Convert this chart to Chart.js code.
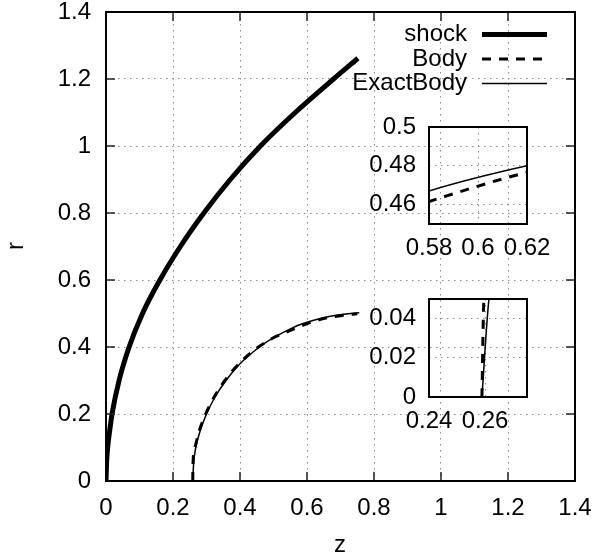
<!DOCTYPE html>
<html>
<head>
<meta charset="utf-8">
<script src="https://cdn.jsdelivr.net/npm/chart.js@4.4.1/dist/chart.umd.min.js"></script>
<style>
  html, body { margin: 0; padding: 0; background: #fff; }
  #wrap { position: relative; width: 596px; height: 556px; }
  canvas { position: absolute; }
</style>
</head>
<body>
<div id="wrap">
  <canvas id="main" width="596" height="556" style="left:0;top:0"></canvas>
  <canvas id="inset1" width="200" height="170" style="left:360px;top:100px"></canvas>
  <canvas id="inset2" width="200" height="170" style="left:360px;top:280px"></canvas>
</div>
<script>
// values: z along x, r along y
const shockZ = [0, 0.0015, 0.005, 0.011, 0.018, 0.039, 0.069, 0.109, 0.161, 0.222, 0.292, 0.371, 0.461, 0.565, 0.679, 0.752];
const shockR = [0, 0.05, 0.1, 0.15, 0.2, 0.3, 0.4, 0.5, 0.6, 0.7, 0.8, 0.9, 1.0, 1.1, 1.2, 1.262];

const bodyZ = [0.2589, 0.2596, 0.2655, 0.2785, 0.2975, 0.3225, 0.355, 0.397, 0.455, 0.497, 0.54, 0.58, 0.62, 0.67, 0.71, 0.75];
const bodyR = [0, 0.05, 0.1, 0.15, 0.2, 0.25, 0.3, 0.35, 0.4, 0.426, 0.445, 0.4616, 0.4766, 0.489, 0.495, 0.499];

const exactZ = [0.2589, 0.2614, 0.268, 0.2812, 0.300, 0.325, 0.358, 0.40, 0.458, 0.50, 0.54, 0.58, 0.62, 0.67, 0.71, 0.756];
const exactR = [0, 0.05, 0.1, 0.15, 0.2, 0.25, 0.3, 0.35, 0.4, 0.428, 0.449, 0.467, 0.48, 0.492, 0.498, 0.502];

const seriesLabels = ['shock', 'Body', 'ExactBody'];

// axis ranges / tick steps
const mainRange = { xMin: 0, xMax: 1.4, yMin: 0, yMax: 1.4, step: 0.2 };
const inset1Range = { xMin: 0.58, xMax: 0.62, yMin: 0.45, yMax: 0.5, step: 0.02 };
const inset2Range = { xMin: 0.24, xMax: 0.275, yMin: 0, yMax: 0.05, step: 0.02 };

const FONT = "'Liberation Sans', Arial, sans-serif";
Chart.defaults.font.family = FONT;
Chart.defaults.font.size = 24;
Chart.defaults.color = '#000';

function xy(xs, ys) {
  return xs.map((x, i) => ({ x: x, y: ys[i] }));
}

function makeDatasets(clip) {
  return [
    { label: seriesLabels[0], data: xy(shockZ, shockR), borderColor: '#000', borderWidth: 5 },
    { label: seriesLabels[1], data: xy(bodyZ, bodyR), borderColor: '#000', borderWidth: 3, borderDash: [9, 8] },
    { label: seriesLabels[2], data: xy(exactZ, exactR), borderColor: '#000', borderWidth: 1.5 }
  ].map(ds => Object.assign(ds, {
    showLine: true,
    pointRadius: 0,
    cubicInterpolationMode: 'monotone',
    borderCapStyle: 'butt',
    borderJoinStyle: 'round',
    clip: clip
  }));
}

// box around the plot + gnuplot-like inward ticks
const framePlugin = {
  id: 'frame',
  afterDraw(chart, args, opts) {
    const { ctx, chartArea: a, scales } = chart;
    ctx.save();
    const len = opts.tickLen || 0;
    if (len) {
      ctx.strokeStyle = '#222';
      ctx.lineWidth = 1.5;
      ctx.beginPath();
      scales.x.ticks.forEach(t => {
        const px = scales.x.getPixelForValue(t.value);
        ctx.moveTo(px, a.bottom); ctx.lineTo(px, a.bottom - len);
        ctx.moveTo(px, a.top); ctx.lineTo(px, a.top + len);
      });
      scales.y.ticks.forEach(t => {
        const py = scales.y.getPixelForValue(t.value);
        ctx.moveTo(a.left, py); ctx.lineTo(a.left + len, py);
        ctx.moveTo(a.right, py); ctx.lineTo(a.right - len, py);
      });
      ctx.stroke();
    }
    ctx.strokeStyle = '#000';
    ctx.lineWidth = 2;
    ctx.strokeRect(a.left, a.top, a.right - a.left, a.bottom - a.top);
    ctx.restore();
  }
};

// key in the top right, text left of the sample, plus the axis titles
const keyPlugin = {
  id: 'key',
  afterDraw(chart) {
    const ctx = chart.ctx;
    ctx.save();
    ctx.font = '24px ' + FONT;
    ctx.fillStyle = '#000';
    ctx.textBaseline = 'middle';
    ctx.textAlign = 'right';
    chart.data.datasets.forEach((ds, i) => {
      const y = 34.5 + i * 24.5;
      ctx.fillText(ds.label, 467, y);
      ctx.strokeStyle = ds.borderColor;
      ctx.lineWidth = ds.borderWidth;
      ctx.setLineDash(ds.borderDash || []);
      ctx.beginPath();
      ctx.moveTo(482, y);
      ctx.lineTo(547, y);
      ctx.stroke();
    });
    ctx.setLineDash([]);
    ctx.textAlign = 'center';
    ctx.fillText('z', 340, 545);
    ctx.translate(16, 246);
    ctx.rotate(-Math.PI / 2);
    ctx.fillText('r', 0, 0);
    ctx.restore();
  }
};

// gnuplot style numbers: 1, 0.6, 0.5 (no padded zeros)
const fmt = v => String(Math.round(v * 1e6) / 1e6);

function axis(range, which, size, pad) {
  const isX = which === 'x';
  return {
    type: 'linear',
    min: isX ? range.xMin : range.yMin,
    max: isX ? range.xMax : range.yMax,
    ticks: {
      stepSize: range.step, includeBounds: false, padding: pad,
      maxRotation: 0, minRotation: 0, autoSkip: false,
      color: '#000', font: { size: 24 }, callback: fmt
    },
    grid: { color: '#8a8a8a', lineWidth: 1, drawTicks: false },
    border: { display: false, dash: [1.5, 4.5] },
    afterFit(scale) {
      if (isX) scale.height = size; else scale.width = size;
      scale.paddingTop = 0; scale.paddingBottom = 0;
      scale.paddingLeft = 0; scale.paddingRight = 0;
    }
  };
}

function makeChart(id, range, box, opts) {
  return new Chart(document.getElementById(id), {
    type: 'scatter',
    data: { datasets: makeDatasets(opts.clip) },
    options: {
      responsive: false,
      animation: false,
      events: [],
      layout: { padding: { left: 0, top: box.top, right: box.right, bottom: 0 } },
      plugins: {
        legend: { display: false },
        tooltip: { enabled: false },
        frame: { tickLen: opts.tickLen }
      },
      scales: {
        x: axis(range, 'x', box.xh, opts.xPad),
        y: axis(range, 'y', box.yw, opts.yPad)
      }
    },
    plugins: opts.key ? [framePlugin, keyPlugin] : [framePlugin]
  });
}

makeChart('main', mainRange, { top: 12, right: 21, xh: 75, yw: 106 }, { tickLen: 9, xPad: 13, yPad: 15, key: true });
makeChart('inset1', inset1Range, { top: 27, right: 33, xh: 46, yw: 69 }, { tickLen: 0, xPad: 10, yPad: 13, clip: 0 });
makeChart('inset2', inset2Range, { top: 19, right: 33, xh: 53, yw: 69 }, { tickLen: 0, xPad: 10, yPad: 13, clip: 0 });
</script>
</body>
</html>
